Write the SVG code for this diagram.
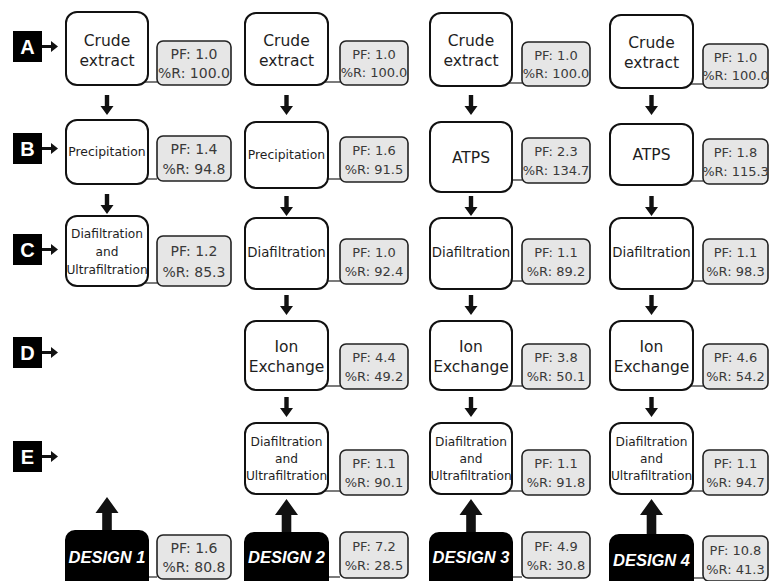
<svg xmlns="http://www.w3.org/2000/svg" width="770" height="581" viewBox="0 0 770 581">
<style>
.step{fill:#fff;stroke:#111;stroke-width:2}
.pf{fill:#e6e6e6;stroke:#222;stroke-width:1.6}
.des{fill:#000;stroke:#000;stroke-width:2}
.lab{fill:#000}
.t{font-family:"DejaVu Sans",sans-serif;fill:#1e1e1e;text-anchor:middle}
.pt{font-family:"DejaVu Sans",sans-serif;fill:#3a3a3a;text-anchor:middle;font-size:13px}
.p1{font-size:14px}
.dt{font-family:"Liberation Sans",Arial,sans-serif;font-weight:bold;font-style:italic;fill:#fff;text-anchor:middle;font-size:16.5px}
.lt{font-family:"Liberation Sans",Arial,sans-serif;font-weight:bold;fill:#fff;text-anchor:middle;font-size:20px}
.ln{stroke:#333;stroke-width:1.3;fill:none}
.ar{fill:#111}
</style>
<defs>
<path id="dn" d="M-2.2,0 H2.2 V11 H6.5 L0,20 L-6.5,11 H-2.2 Z"/>
<path id="up" d="M0,0 L11.5,16 H4.8 V36 H-4.8 V16 H-11.5 Z"/>
<path id="la" d="M0,-1.5 H9 V-5.5 L16,0 L9,5.5 V1.5 H0 Z"/>
</defs>

<!-- Row labels -->
<g id="labelA"><rect class="lab" x="13" y="31" width="29" height="31"/><text class="lt" x="27.5" y="53.5">A</text><use href="#la" x="42" y="46.5" class="ar"/></g>
<g id="labelB"><rect class="lab" x="13" y="133" width="29" height="31"/><text class="lt" x="27.5" y="155.5">B</text><use href="#la" x="42" y="148.5" class="ar"/></g>
<g id="labelC"><rect class="lab" x="13" y="234" width="29" height="31"/><text class="lt" x="27.5" y="256.5">C</text><use href="#la" x="42" y="249.5" class="ar"/></g>
<g id="labelD"><rect class="lab" x="13" y="337" width="29" height="31"/><text class="lt" x="27.5" y="359.5">D</text><use href="#la" x="42" y="352.5" class="ar"/></g>
<g id="labelE"><rect class="lab" x="13" y="441" width="29" height="31"/><text class="lt" x="27.5" y="463.5">E</text><use href="#la" x="42" y="456.5" class="ar"/></g>

<!-- Connectors -->
<g id="connectors">
<g class="ln">
<line x1="144" y1="82" x2="157" y2="82"/><line x1="144" y1="179" x2="157" y2="179"/><line x1="144" y1="283" x2="157" y2="283"/><line x1="144" y1="577" x2="157" y2="577"/>
<line x1="324" y1="82" x2="340" y2="82"/><line x1="324" y1="179" x2="340" y2="179"/><line x1="324" y1="281" x2="340" y2="281"/><line x1="324" y1="386" x2="340" y2="386"/><line x1="324" y1="491" x2="340" y2="491"/><line x1="324" y1="577" x2="340" y2="577"/>
<line x1="508" y1="83" x2="522" y2="83"/><line x1="508" y1="180" x2="522" y2="180"/><line x1="508" y1="281" x2="522" y2="281"/><line x1="508" y1="386" x2="522" y2="386"/><line x1="508" y1="491" x2="522" y2="491"/><line x1="508" y1="577" x2="522" y2="577"/>
<line x1="689" y1="84" x2="703" y2="84"/><line x1="689" y1="181" x2="703" y2="181"/><line x1="689" y1="281" x2="703" y2="281"/><line x1="689" y1="386" x2="703" y2="386"/><line x1="689" y1="491" x2="703" y2="491"/><line x1="689" y1="578" x2="703" y2="578"/>
</g>
<g class="ar">
<use href="#dn" x="107" y="95"/><use href="#dn" x="107" y="194"/>
<use href="#dn" x="286.5" y="95"/><use href="#dn" x="286.5" y="196"/><use href="#dn" x="286.5" y="295"/><use href="#dn" x="286.5" y="397"/>
<use href="#dn" x="471" y="95"/><use href="#dn" x="471" y="196"/><use href="#dn" x="471" y="295"/><use href="#dn" x="471" y="397"/>
<use href="#dn" x="651.5" y="95"/><use href="#dn" x="651.5" y="196"/><use href="#dn" x="651.5" y="295"/><use href="#dn" x="651.5" y="397"/>
<use href="#up" x="107" y="497"/><use href="#up" x="286.5" y="499"/><use href="#up" x="471" y="499"/><use href="#up" x="651.5" y="499"/>
</g>
</g>

<!-- Design 1 -->
<g id="d1-crude"><rect class="step" x="66" y="12" width="82" height="73" rx="11"/><text class="t" font-size="15.5" x="107" y="46">Crude</text><text class="t" font-size="15.5" x="107" y="66">extract</text></g>
<g id="d1-crude-pf"><rect class="pf" x="157" y="41" width="74" height="44" rx="6"/><text class="pt p1" x="194" y="59">PF: 1.0</text><text class="pt p1" x="194" y="78">%R: 100.0</text></g>
<g id="d1-precip"><rect class="step" x="66" y="120" width="82" height="64" rx="11"/><text class="t" font-size="12.4" x="107" y="156">Precipitation</text></g>
<g id="d1-precip-pf"><rect class="pf" x="157" y="136" width="74" height="45" rx="6"/><text class="pt p1" x="194" y="154">PF: 1.4</text><text class="pt p1" x="194" y="174">%R: 94.8</text></g>
<g id="d1-dfuf"><rect class="step" x="66" y="216" width="82" height="70" rx="11"/><text class="t" font-size="12.2" x="107" y="238">Diafiltration</text><text class="t" font-size="12.2" x="107" y="256">and</text><text class="t" font-size="12.2" x="107" y="274">Ultrafiltration</text></g>
<g id="d1-dfuf-pf"><rect class="pf" x="157" y="236" width="74" height="50" rx="6"/><text class="pt p1" x="194" y="256">PF: 1.2</text><text class="pt p1" x="194" y="277">%R: 85.3</text></g>
<g id="d1-design"><rect class="des" x="66" y="531" width="82" height="64" rx="9"/><text class="dt" x="107" y="563">DESIGN 1</text></g>
<g id="d1-design-pf"><rect class="pf" x="157" y="535" width="74" height="44" rx="6"/><text class="pt p1" x="194" y="553">PF: 1.6</text><text class="pt p1" x="194" y="572">%R: 80.8</text></g>

<!-- Design 2 -->
<g id="d2-crude"><rect class="step" x="245" y="13" width="83" height="72" rx="11"/><text class="t" font-size="15.5" x="286.5" y="46">Crude</text><text class="t" font-size="15.5" x="286.5" y="66">extract</text></g>
<g id="d2-crude-pf"><rect class="pf" x="340" y="41" width="68" height="44" rx="6"/><text class="pt" x="374" y="59">PF: 1.0</text><text class="pt" x="374" y="77">%R: 100.0</text></g>
<g id="d2-precip"><rect class="step" x="245" y="122" width="83" height="66" rx="11"/><text class="t" font-size="12.4" x="286.5" y="159">Precipitation</text></g>
<g id="d2-precip-pf"><rect class="pf" x="340" y="137" width="68" height="45" rx="6"/><text class="pt" x="374" y="155">PF: 1.6</text><text class="pt" x="374" y="174">%R: 91.5</text></g>
<g id="d2-dia"><rect class="step" x="245" y="218" width="83" height="71" rx="11"/><text class="t" font-size="13.3" x="286.5" y="257">Diafiltration</text></g>
<g id="d2-dia-pf"><rect class="pf" x="340" y="239" width="68" height="45" rx="6"/><text class="pt" x="374" y="257">PF: 1.0</text><text class="pt" x="374" y="276">%R: 92.4</text></g>
<g id="d2-ion"><rect class="step" x="245" y="321" width="83" height="69" rx="11"/><text class="t" font-size="15.5" x="286.5" y="352">Ion</text><text class="t" font-size="15.5" x="286.5" y="372">Exchange</text></g>
<g id="d2-ion-pf"><rect class="pf" x="340" y="344" width="68" height="45" rx="6"/><text class="pt" x="374" y="362">PF: 4.4</text><text class="pt" x="374" y="381">%R: 49.2</text></g>
<g id="d2-dfuf"><rect class="step" x="245" y="423" width="83" height="71" rx="11"/><text class="t" font-size="12.2" x="286.5" y="446">Diafiltration</text><text class="t" font-size="12.2" x="286.5" y="463">and</text><text class="t" font-size="12.2" x="286.5" y="480">Ultrafiltration</text></g>
<g id="d2-dfuf-pf"><rect class="pf" x="340" y="450" width="68" height="45" rx="6"/><text class="pt" x="374" y="468">PF: 1.1</text><text class="pt" x="374" y="487">%R: 90.1</text></g>
<g id="d2-design"><rect class="des" x="245" y="533" width="83" height="62" rx="9"/><text class="dt" x="286.5" y="563">DESIGN 2</text></g>
<g id="d2-design-pf"><rect class="pf" x="340" y="532" width="68" height="46" rx="6"/><text class="pt" x="374" y="551">PF: 7.2</text><text class="pt" x="374" y="570">%R: 28.5</text></g>

<!-- Design 3 -->
<g id="d3-crude"><rect class="step" x="430" y="13" width="82" height="73" rx="11"/><text class="t" font-size="15.5" x="471" y="46">Crude</text><text class="t" font-size="15.5" x="471" y="66">extract</text></g>
<g id="d3-crude-pf"><rect class="pf" x="522" y="42" width="68" height="44" rx="6"/><text class="pt" x="556" y="60">PF: 1.0</text><text class="pt" x="556" y="78">%R: 100.0</text></g>
<g id="d3-atps"><rect class="step" x="430" y="122" width="82" height="70" rx="11"/><text class="t" font-size="15.5" x="471" y="163">ATPS</text></g>
<g id="d3-atps-pf"><rect class="pf" x="522" y="138" width="68" height="45" rx="6"/><text class="pt" x="556" y="156">PF: 2.3</text><text class="pt" x="556" y="175">%R: 134.7</text></g>
<g id="d3-dia"><rect class="step" x="430" y="218" width="82" height="71" rx="11"/><text class="t" font-size="13.3" x="471" y="257">Diafiltration</text></g>
<g id="d3-dia-pf"><rect class="pf" x="522" y="239" width="68" height="45" rx="6"/><text class="pt" x="556" y="257">PF: 1.1</text><text class="pt" x="556" y="276">%R: 89.2</text></g>
<g id="d3-ion"><rect class="step" x="430" y="321" width="82" height="69" rx="11"/><text class="t" font-size="15.5" x="471" y="352">Ion</text><text class="t" font-size="15.5" x="471" y="372">Exchange</text></g>
<g id="d3-ion-pf"><rect class="pf" x="522" y="344" width="68" height="45" rx="6"/><text class="pt" x="556" y="362">PF: 3.8</text><text class="pt" x="556" y="381">%R: 50.1</text></g>
<g id="d3-dfuf"><rect class="step" x="430" y="423" width="82" height="71" rx="11"/><text class="t" font-size="12.2" x="471" y="446">Diafiltration</text><text class="t" font-size="12.2" x="471" y="463">and</text><text class="t" font-size="12.2" x="471" y="480">Ultrafiltration</text></g>
<g id="d3-dfuf-pf"><rect class="pf" x="522" y="450" width="68" height="45" rx="6"/><text class="pt" x="556" y="468">PF: 1.1</text><text class="pt" x="556" y="487">%R: 91.8</text></g>
<g id="d3-design"><rect class="des" x="430" y="533" width="82" height="62" rx="9"/><text class="dt" x="471" y="563">DESIGN 3</text></g>
<g id="d3-design-pf"><rect class="pf" x="522" y="532" width="68" height="46" rx="6"/><text class="pt" x="556" y="551">PF: 4.9</text><text class="pt" x="556" y="570">%R: 30.8</text></g>

<!-- Design 4 -->
<g id="d4-crude"><rect class="step" x="610" y="15" width="83" height="73" rx="11"/><text class="t" font-size="15.5" x="651.5" y="48">Crude</text><text class="t" font-size="15.5" x="651.5" y="68">extract</text></g>
<g id="d4-crude-pf"><rect class="pf" x="703" y="44" width="65" height="44" rx="6"/><text class="pt" x="735.5" y="62">PF: 1.0</text><text class="pt" x="735.5" y="80">%R: 100.0</text></g>
<g id="d4-atps"><rect class="step" x="610" y="124" width="83" height="61" rx="11"/><text class="t" font-size="15.5" x="651.5" y="160">ATPS</text></g>
<g id="d4-atps-pf"><rect class="pf" x="703" y="139" width="65" height="45" rx="6"/><text class="pt" x="735.5" y="157">PF: 1.8</text><text class="pt" x="735.5" y="176">%R: 115.3</text></g>
<g id="d4-dia"><rect class="step" x="610" y="218" width="83" height="71" rx="11"/><text class="t" font-size="13.3" x="651.5" y="257">Diafiltration</text></g>
<g id="d4-dia-pf"><rect class="pf" x="703" y="239" width="65" height="45" rx="6"/><text class="pt" x="735.5" y="257">PF: 1.1</text><text class="pt" x="735.5" y="276">%R: 98.3</text></g>
<g id="d4-ion"><rect class="step" x="610" y="321" width="83" height="69" rx="11"/><text class="t" font-size="15.5" x="651.5" y="352">Ion</text><text class="t" font-size="15.5" x="651.5" y="372">Exchange</text></g>
<g id="d4-ion-pf"><rect class="pf" x="703" y="344" width="65" height="45" rx="6"/><text class="pt" x="735.5" y="362">PF: 4.6</text><text class="pt" x="735.5" y="381">%R: 54.2</text></g>
<g id="d4-dfuf"><rect class="step" x="610" y="423" width="83" height="71" rx="11"/><text class="t" font-size="12.2" x="651.5" y="446">Diafiltration</text><text class="t" font-size="12.2" x="651.5" y="463">and</text><text class="t" font-size="12.2" x="651.5" y="480">Ultrafiltration</text></g>
<g id="d4-dfuf-pf"><rect class="pf" x="703" y="450" width="65" height="45" rx="6"/><text class="pt" x="735.5" y="468">PF: 1.1</text><text class="pt" x="735.5" y="487">%R: 94.7</text></g>
<g id="d4-design"><rect class="des" x="610" y="535" width="83" height="62" rx="9"/><text class="dt" x="651.5" y="566">DESIGN 4</text></g>
<g id="d4-design-pf"><rect class="pf" x="703" y="536" width="65" height="45" rx="6"/><text class="pt" x="735.5" y="555">PF: 10.8</text><text class="pt" x="735.5" y="574">%R: 41.3</text></g>
</svg>
